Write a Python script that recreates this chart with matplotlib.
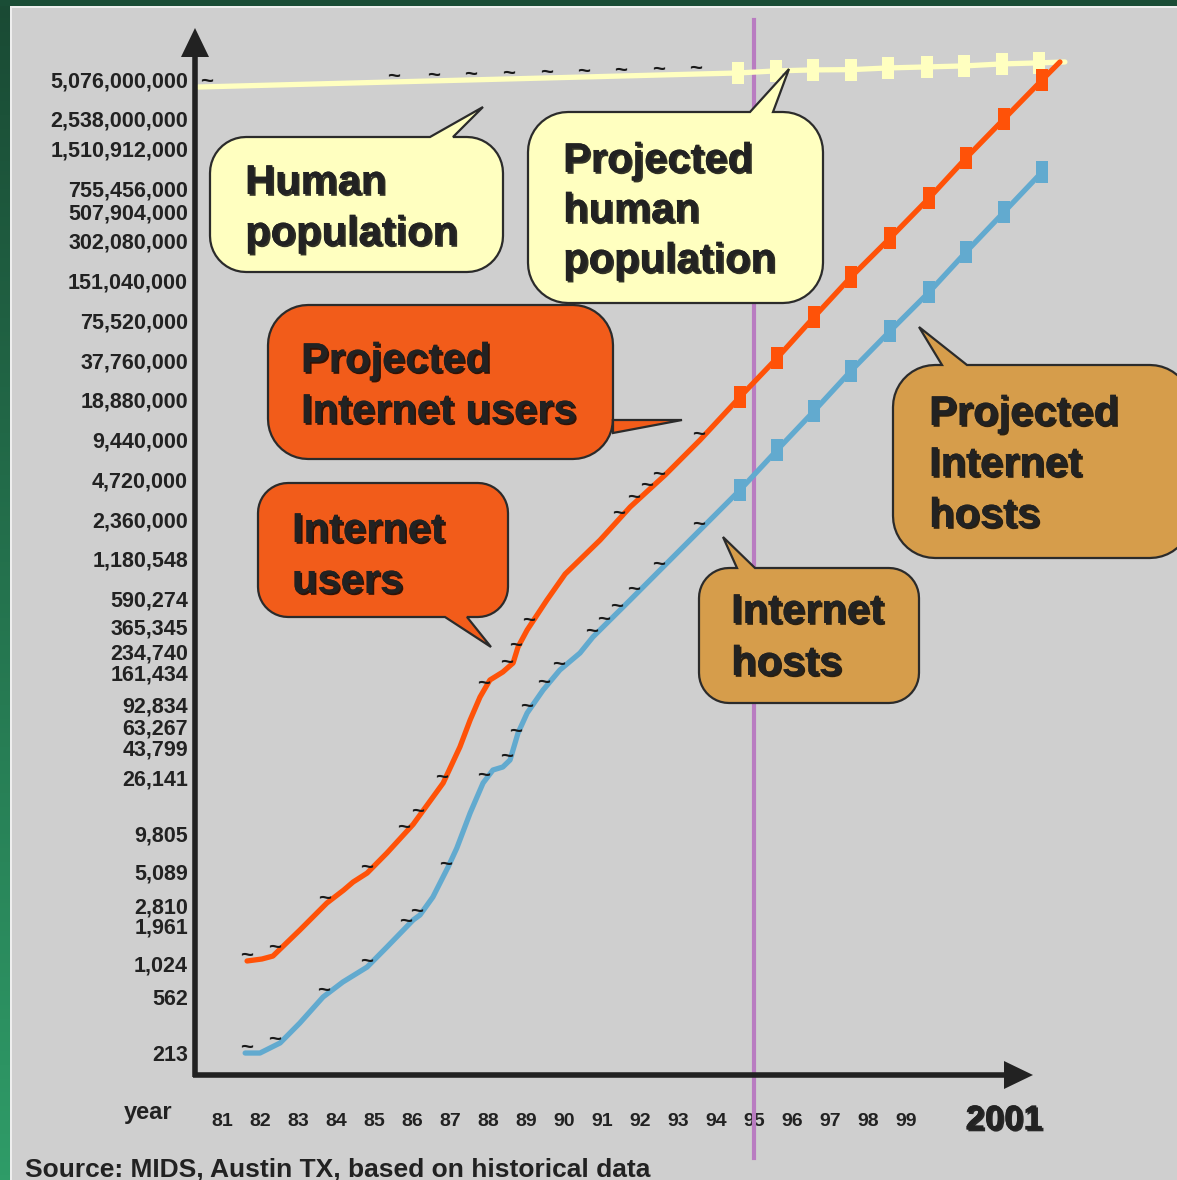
import numpy as np
import matplotlib.pyplot as plt
import matplotlib.patheffects as pe
from matplotlib.path import Path
from matplotlib.patches import Polygon, Rectangle

plt.rcParams['font.family'] = ['Liberation Sans', 'DejaVu Sans']

# ---- data (year 81 = 1981, 101 = 2001) ----
users_year = [81.66, 82.05, 82.34, 83.05, 83.76, 84.20, 84.45, 84.82, 85.34, 86.03, 86.82,
              87.26, 87.53, 87.79, 88.05, 88.39, 88.66, 88.79, 89.03, 89.55, 90.03,
              90.95, 91.74, 92.66, 93.58, 94.63]
users_count = [1061, 1098, 1156, 1821, 2916, 3650, 4206, 4920, 6976, 11500, 23660,
               44330, 71000, 106000, 142600, 164000, 191900, 253700, 341200, 575400, 905700,
               1639000, 2916000, 5097000, 9385000, 19860000]

hosts_year = [81.61, 82.00, 82.53, 83.05, 83.66, 84.18, 84.82, 85.34, 86.03, 86.21,
              86.55, 86.95, 87.18, 87.53, 87.87, 88.13, 88.39, 88.58, 88.79, 89.03,
              89.45, 89.89, 90.42, 90.76, 91.29, 91.74, 92.66, 93.58, 94.63]
hosts_count = [213, 213, 254, 360, 566, 735, 955, 1353, 2168, 2366,
               3238, 5466, 7612, 14020, 23660, 29680, 31280, 35340, 56570, 80220,
               119800, 169800, 228400, 302000, 428000, 575400, 1060000, 1953000, 3922000]

human_year = [80.37, 94.58]
human_count = [4.43e9, 5.66e9]

proj_year = [94.63, 95.61, 96.58, 97.55, 98.58, 99.61, 100.58, 101.58, 102.58, 103.05]
proj_users = [19.9e6, 39.3e6, 80.2e6, 161e6, 318e6, 640e6, 1285e6, 2540e6, 5010e6, 6860e6]
proj_hosts = [3.92e6, 7.89e6, 15.56e6, 31.3e6, 62.8e6, 124.1e6, 249.5e6, 501e6, 1007e6]
proj_human_year = [94.58, 95.58, 96.55, 97.55, 98.53, 99.55, 100.53, 101.53, 102.50, 103.18]
proj_human = [5.66e9, 5.87e9, 5.97e9, 6.0e9, 6.18e9, 6.29e9, 6.40e9, 6.63e9, 6.75e9, 6.86e9]

# "~" break marks along the historical curves
users_tilde = [81.68, 82.42, 83.74, 84.84, 85.82, 86.18, 86.82, 87.92, 88.53, 88.76,
               89.11, 91.47, 91.87, 92.21, 92.53, 93.58]
hosts_tilde = [81.68, 82.42, 83.71, 84.84, 85.87, 86.16, 86.92, 87.92, 88.53, 88.76,
               89.05, 89.50, 89.90, 90.76, 91.08, 91.42, 91.87, 92.53, 93.58]
human_tilde = [80.63, 85.55, 86.61, 87.58, 88.58, 89.58, 90.55, 91.53, 92.53, 93.50]

ytick_values = [213, 562, 1024, 1961, 2810, 5089, 9805, 26141, 43799, 63267, 92834,
                161434, 234740, 365345, 590274, 1180548, 2360000, 4720000, 9440000,
                18880000, 37760000, 75520000, 151040000, 302080000, 507904000,
                755456000, 1510912000, 2538000000, 5076000000]
xtick_years = list(range(81, 100))

BG = '#cfcfcf'
ORANGE = '#ff5208'
BLUE = '#62aacf'
YELLOW = '#ffffc0'
TAN = '#d69d4b'
BUBBLE_ORANGE = '#f25c1a'
PURPLE = '#b97cc1'
INK = '#222222'

W, H = 1177, 1180
fig = plt.figure(figsize=(W / 100, H / 100), dpi=100, facecolor=BG)

# slide frame: green strips with a thin white rule
bg = fig.add_axes([0, 0, 1, 1], zorder=0)
bg.set_xlim(0, W)
bg.set_ylim(H, 0)
bg.axis('off')
grad = np.linspace(0, 1, 256)[:, None]
green = plt.matplotlib.colors.LinearSegmentedColormap.from_list('g', ['#1a4a34', '#2f9c68'])
bg.imshow(grad, cmap=green, extent=(0, 10, H, 0), aspect='auto')
bg.add_patch(Rectangle((0, 0), W, 5.5, color='#1a4d36', lw=0))
bg.add_patch(Rectangle((10, 5.5), W, 2, color='#eeeeee', lw=0))
bg.add_patch(Rectangle((10, 5.5), 2, H, color='#eeeeee', lw=0))

# data axes
ax = fig.add_axes([195 / W, 105 / H, 982 / W, 1055 / H], zorder=1)
ax.set_facecolor('none')
ax.set_yscale('log')
ax.set_xlim(80.29, 106.13)
ax.set_ylim(145.2, 1.426e10)
for s in ax.spines.values():
    s.set_visible(False)
ax.yaxis.set_minor_locator(plt.NullLocator())
ax.set_yticks(ytick_values, [f'{v:,}' for v in ytick_values])
ax.set_xticks(xtick_years, [str(y) for y in xtick_years])
ax.tick_params(axis='y', length=0, pad=5, labelsize=15.5, labelcolor=INK)
ax.tick_params(axis='x', length=0, pad=27, labelsize=14, labelcolor=INK)
for lab in ax.get_xticklabels() + ax.get_yticklabels():
    lab.set_fontweight('bold')

ax.axvline(95.0, ymin=-83 / 1055, ymax=1, clip_on=False, color=PURPLE, lw=3, zorder=1.8)

bar = Path([(-0.27, -0.5), (0.27, -0.5), (0.27, 0.5), (-0.27, 0.5), (-0.27, -0.5)],
           [Path.MOVETO, Path.LINETO, Path.LINETO, Path.LINETO, Path.CLOSEPOLY])
line_kw = dict(lw=3.8, solid_capstyle='round', solid_joinstyle='round', zorder=2)

ax.plot(human_year, human_count, color=YELLOW, **line_kw)
ax.plot(proj_human_year, proj_human, color=YELLOW, marker=bar, markersize=16,
        markevery=slice(0, 9), markeredgewidth=0, **line_kw)
ax.plot(users_year, users_count, color=ORANGE, **line_kw)
ax.plot(proj_year, proj_users, color=ORANGE, marker=bar, markersize=16,
        markevery=slice(0, 9), markeredgewidth=0, **line_kw)
ax.plot(hosts_year, hosts_count, color=BLUE, **line_kw)
ax.plot(proj_year[:9], proj_hosts, color=BLUE, marker=bar, markersize=16,
        markeredgewidth=0, **line_kw)


def tildes(years, xs, ys):
    logs = np.interp(years, xs, np.log10(ys))
    for yr, lv in zip(years, logs):
        ax.annotate('~', (yr, 10 ** lv), xytext=(-1, 3), textcoords='offset points',
                    ha='center', va='center', fontsize=16, fontweight='bold',
                    color='#1a1a1a', zorder=3)


tildes(users_tilde, users_year, users_count)
tildes(hosts_tilde, hosts_year, hosts_count)
tildes(human_tilde, human_year + proj_human_year[1:], human_count + proj_human[1:])

# overlay in pixel coordinates: axis arrows, callouts, captions
ov = fig.add_axes([0, 0, 1, 1], zorder=3)
ov.set_xlim(0, W)
ov.set_ylim(H, 0)
ov.axis('off')
ov.patch.set_alpha(0)

ov.plot([195, 195], [1077, 50], color=INK, lw=4, solid_capstyle='butt')
ov.add_patch(Polygon([(181, 57), (209, 57), (195, 28)], color=INK, lw=0))
ov.plot([193, 1010], [1075, 1075], color=INK, lw=4, solid_capstyle='butt')
ov.add_patch(Polygon([(1004, 1061), (1004, 1089), (1033, 1075)], color=INK, lw=0))

shadow = [pe.withSimplePatchShadow(offset=(1.3, -1.3), shadow_rgbFace='black', alpha=0.8),
          pe.Normal()]


def bubble(x0, y0, x1, y1, r, side, base, tip, face):
    arc = np.linspace(0, np.pi / 2, 12)
    pts = []
    if side == 'top':
        pts += [(base[0], y0), tip, (base[1], y0)]
    pts += [(x1 - r + r * np.sin(a), y0 + r - r * np.cos(a)) for a in arc]
    if side == 'right':
        pts += [(x1, base[0]), tip, (x1, base[1])]
    pts += [(x1 - r + r * np.cos(a), y1 - r + r * np.sin(a)) for a in arc]
    if side == 'bottom':
        pts += [(base[1], y1), tip, (base[0], y1)]
    pts += [(x0 + r - r * np.sin(a), y1 - r + r * np.cos(a)) for a in arc]
    pts += [(x0 + r - r * np.cos(a), y0 + r - r * np.sin(a)) for a in arc]
    ov.add_patch(Polygon(pts, closed=True, facecolor=face, edgecolor='#2b2b2b',
                         lw=1.6, joinstyle='miter'))


def bubble_text(x, y, lines, step=51):
    for i, s in enumerate(lines):
        ov.text(x, y + i * step, s, fontsize=30, fontweight='bold', color=INK,
                ha='left', va='baseline', path_effects=shadow)


bubble(210, 137, 503, 272, 36, 'top', (430, 453), (483, 107), YELLOW)
bubble_text(245, 194, ['Human', 'population'])

bubble(528, 112, 823, 303, 40, 'top', (750, 773), (789, 69), YELLOW)
bubble_text(563, 172, ['Projected', 'human', 'population'], step=50)

bubble(268, 305, 613, 459, 40, 'right', (420, 433), (682, 420), BUBBLE_ORANGE)
bubble_text(301, 372, ['Projected', 'Internet users'])

bubble(258, 483, 508, 617, 30, 'bottom', (445, 467), (491, 647), BUBBLE_ORANGE)
bubble_text(292, 542, ['Internet', 'users'])

bubble(893, 365, 1192, 558, 42, 'top', (942, 967), (919, 327), TAN)
bubble_text(929, 425, ['Projected', 'Internet', 'hosts'])

bubble(699, 568, 919, 703, 30, 'top', (737, 755), (723, 537), TAN)
bubble_text(731, 623, ['Internet', 'hosts'], step=52)

ov.text(148, 1113, 'year', fontsize=17, fontweight='bold', color=INK, ha='center', va='center')
ov.text(1004, 1120, '2001', fontsize=25, fontweight='bold', color=INK, ha='center',
        va='center', path_effects=shadow)
ov.text(25, 1177, 'Source: MIDS, Austin TX, based on historical data', fontsize=19,
        fontweight='bold', color=INK, ha='left', va='baseline')

fig.savefig('out.png', dpi=100, facecolor=BG)
